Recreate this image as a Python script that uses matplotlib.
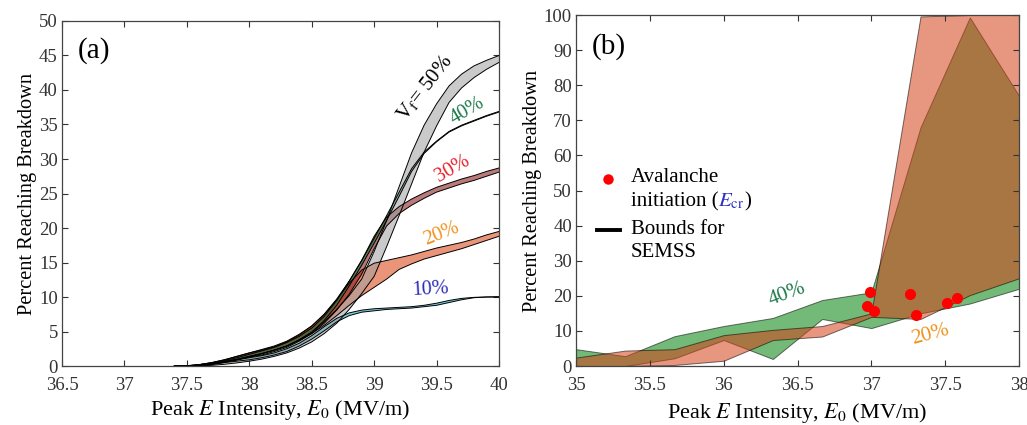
import matplotlib
matplotlib.use("Agg")
import matplotlib.pyplot as plt
from matplotlib.lines import Line2D
from matplotlib.offsetbox import (AnchoredOffsetbox, DrawingArea, HPacker,
                                  TextArea, VPacker)

plt.rcParams["font.family"] = ["Liberation Serif", "DejaVu Serif"]
plt.rcParams["mathtext.fontset"] = "stix"

# --- (a) SEMSS bounds vs peak field, one band per void fraction ---
E_a = [37.4, 37.5, 37.6, 37.7, 37.8, 37.9, 38.0, 38.1, 38.2, 38.3, 38.4, 38.5, 38.6, 38.7,
       38.8, 38.9, 39.0, 39.1, 39.2, 39.3, 39.4, 39.5, 39.6, 39.7, 39.8, 39.9, 40.0]
vf10_lo = [0, 0, 0.1, 0.3, 0.5, 0.7, 0.9, 1.2, 1.6, 2.1, 2.9, 3.9, 5.1, 6.4,
           7.3, 7.8, 8.0, 8.2, 8.3, 8.4, 8.6, 8.8, 9.2, 9.6, 9.9, 10.0, 10.0]
vf10_hi = [0, 0, 0.15, 0.35, 0.6, 0.9, 1.2, 1.5, 1.9, 2.5, 3.3, 4.4, 5.7, 6.9,
           7.7, 8.1, 8.3, 8.4, 8.5, 8.6, 8.8, 9.1, 9.5, 9.8, 9.95, 10.0, 10.05]
vf20_lo = [0, 0, 0.05, 0.2, 0.5, 0.9, 1.3, 1.8, 2.3, 2.9, 3.7, 4.7, 5.9, 7.3,
           8.8, 10.2, 11.4, 12.6, 14.0, 14.8, 15.5, 16.0, 16.5, 17.0, 17.6, 18.2, 18.8]
vf20_hi = [0, 0, 0.2, 0.5, 0.9, 1.4, 1.9, 2.4, 2.9, 3.6, 4.6, 5.8, 7.5, 9.6,
           12.0, 13.9, 14.9, 15.3, 15.7, 16.1, 16.6, 17.1, 17.5, 17.9, 18.4, 19.0, 19.5]
vf30_lo = [0, 0, 0.1, 0.3, 0.6, 0.9, 1.3, 1.6, 2.1, 2.7, 3.6, 4.7, 6.2, 8.1,
           10.4, 13.3, 17.0, 20.3, 22.1, 23.3, 24.3, 25.2, 25.8, 26.4, 26.9, 27.5, 28.1]
vf30_hi = [0, 0, 0.2, 0.5, 0.9, 1.4, 1.9, 2.3, 2.8, 3.5, 4.5, 5.8, 7.5, 9.7,
           12.3, 15.3, 18.8, 21.6, 23.1, 24.2, 25.1, 25.9, 26.5, 27.1, 27.6, 28.2, 28.7]
vf40_lo = [0, 0, 0.1, 0.3, 0.6, 0.9, 1.4, 1.8, 2.3, 2.9, 3.8, 4.9, 6.6, 8.8,
           11.6, 14.6, 17.8, 21.1, 24.6, 28.2, 30.8, 32.5, 33.9, 34.8, 35.5, 36.2, 36.8]
vf40_hi = [0, 0.05, 0.2, 0.45, 0.8, 1.2, 1.7, 2.2, 2.7, 3.4, 4.3, 5.5, 7.2, 9.5,
           12.3, 15.3, 18.5, 21.8, 25.2, 28.6, 31.0, 32.6, 34.0, 34.9, 35.6, 36.3, 36.9]
vf50_lo = [0, 0, 0.02, 0.1, 0.25, 0.45, 0.7, 1.0, 1.4, 1.9, 2.6, 3.5, 4.7, 6.2,
           8.2, 10.5, 13.0, 17.3, 21.8, 26.4, 31.0, 34.8, 38.2, 40.3, 41.8, 43.0, 44.0]
vf50_hi = [0, 0.05, 0.2, 0.4, 0.7, 1.0, 1.4, 1.8, 2.3, 2.9, 3.8, 4.9, 6.4, 8.2,
           10.2, 12.6, 16.6, 21.1, 26.0, 30.9, 34.9, 38.0, 40.6, 42.3, 43.5, 44.3, 45.0]

# --- (b) bounds for 40% and 20% with avalanche initiation points ---
E_b = [35.0, 35.333, 35.667, 36.0, 36.333, 36.667, 37.0, 37.333, 37.667, 38.0]
vf40_b_lo = [0, 0, 2.2, 7.4, 2.0, 13.4, 10.8, 15.0, 17.8, 22.0]
vf40_b_hi = [4.8, 2.8, 8.5, 11.4, 13.7, 18.8, 21.0, 68.0, 99.3, 77.0]
vf20_b_lo = [0, 0, 0.3, 1.5, 7.4, 8.4, 14.0, 13.4, 20.2, 25.0]
vf20_b_hi = [2.4, 4.4, 4.8, 8.8, 10.3, 11.4, 15.0, 99.6, 100, 100]
aval_E = [36.97, 36.99, 37.02, 37.26, 37.30, 37.51, 37.58]
aval_pct = [17.2, 21.2, 15.7, 20.4, 14.4, 17.9, 19.5]

xticks_a = [36.5, 37, 37.5, 38, 38.5, 39, 39.5, 40]
xticks_b = [35, 35.5, 36, 36.5, 37, 37.5, 38]

fig = plt.figure(figsize=(10.27, 4.25), dpi=100)
ax1 = fig.add_axes([0.0604, 0.1388, 0.4255, 0.8118])
ax2 = fig.add_axes([0.5609, 0.1388, 0.4313, 0.8259])

xlabel = r"Peak $E$ Intensity, $E_0$ (MV/m)"
for ax in (ax1, ax2):
    ax.tick_params(direction="in", top=True, right=True, length=4, width=0.8,
                   labelsize=13.5, colors="#333333", labelcolor="#333333")
    ax.tick_params(axis="x", pad=8)
    ax.tick_params(axis="y", pad=3)
    for s in ax.spines.values():
        s.set_color("#444444")
        s.set_linewidth(0.9)
    ax.set_ylabel("Percent Reaching Breakdown", fontsize=14.7, labelpad=1.5)

# panel (a)
bands = [
    (vf10_lo, vf10_hi, "#0da3c5"),
    (vf20_lo, vf20_hi, "#d93f0d"),
    (vf30_lo, vf30_hi, "#820d0d"),
    (vf40_lo, vf40_hi, "#0a7a30"),
    (vf50_lo, vf50_hi, "#a0a0a0"),
]
for lo, hi, c in bands:
    ax1.fill_between(E_a, lo, hi, facecolor=c, alpha=0.55, edgecolor="none")
    ax1.plot(E_a, lo, color="black", lw=0.7)
    ax1.plot(E_a, hi, color="black", lw=0.7)

ax1.set_xlim(36.5, 40)
ax1.set_ylim(0, 50)
ax1.set_xticks(xticks_a)
ax1.set_xticklabels([f"{t:g}" for t in xticks_a])
ax1.set_yticks(range(0, 51, 5))
ax1.set_xlabel(xlabel, fontsize=16, labelpad=3)
ax1.text(0.035, 0.915, "(a)", transform=ax1.transAxes, fontsize=21, va="center")

ax1.text(39.41, 40.3, r"V$_{\rm f}$= 50%", fontsize=15, rotation=52,
         ha="center", va="center", color="black")
ax1.text(39.75, 37.0, "40%", fontsize=14.5, rotation=30, ha="center", va="center",
         color="#1e7a4a")
ax1.text(39.63, 28.6, "30%", fontsize=14.5, rotation=30, ha="center", va="center",
         color="#e8202a")
ax1.text(39.54, 19.2, "20%", fontsize=14.5, rotation=22, ha="center", va="center",
         color="#f0921e")
ax1.text(39.45, 11.1, "10%", fontsize=14.5, rotation=3, ha="center", va="center",
         color="#2a2ab8")

# panel (b)
ax2.fill_between(E_b, vf40_b_lo, vf40_b_hi, facecolor="#00810a", alpha=0.55,
                 edgecolor="black", linewidth=0.7)
ax2.fill_between(E_b, vf20_b_lo, vf20_b_hi, facecolor="#d54018", alpha=0.55,
                 edgecolor="black", linewidth=0.7)
ax2.plot(aval_E, aval_pct, "o", color="red", ms=8, mec="none", zorder=5)

ax2.set_xlim(35, 38)
ax2.set_ylim(0, 100)
ax2.set_xticks(xticks_b)
ax2.set_xticklabels([f"{t:g}" for t in xticks_b])
ax2.set_yticks(range(0, 101, 10))
ax2.set_xlabel(xlabel, fontsize=16, labelpad=5)
ax2.text(0.036, 0.91, "(b)", transform=ax2.transAxes, fontsize=21, va="center")
ax2.text(36.43, 20.5, "40%", fontsize=15, rotation=20, ha="center", va="center",
         color="#1e7a4a")
ax2.text(37.40, 8.8, "20%", fontsize=15, rotation=15, ha="center", va="center",
         color="#f0921e")

# legend with a two-colour label, packed by hand
tp = dict(fontsize=15, color="black")
key_dot = DrawingArea(18, 15, 0, 0)
key_dot.add_artist(Line2D([9], [7.5], marker="o", color="red", ms=7.5, mec="none", ls="none"))
key_line = DrawingArea(18, 15, 0, 0)
key_line.add_artist(Line2D([1, 17], [7.5, 7.5], color="black", lw=2.8))

ecr_line = HPacker(children=[TextArea("initiation (", textprops=tp),
                             TextArea(r"$E_{\rm cr}$", textprops=dict(fontsize=15, color="#2f2fc8")),
                             TextArea(")", textprops=tp)],
                   align="baseline", pad=0, sep=0)
row1 = HPacker(children=[key_dot,
                         VPacker(children=[TextArea("Avalanche", textprops=tp), ecr_line],
                                 align="left", pad=0, sep=3)],
               align="top", pad=0, sep=7)
row2 = HPacker(children=[key_line,
                         VPacker(children=[TextArea("Bounds for", textprops=tp),
                                           TextArea("SEMSS", textprops=tp)],
                                 align="left", pad=0, sep=3)],
               align="top", pad=0, sep=7)
leg = AnchoredOffsetbox(loc="center left",
                        child=VPacker(children=[row1, row2], align="left", pad=0, sep=6),
                        pad=0, borderpad=0, frameon=False,
                        bbox_to_anchor=(0.045, 0.43), bbox_transform=ax2.transAxes)
ax2.add_artist(leg)

fig.savefig("out.png", dpi=100)
